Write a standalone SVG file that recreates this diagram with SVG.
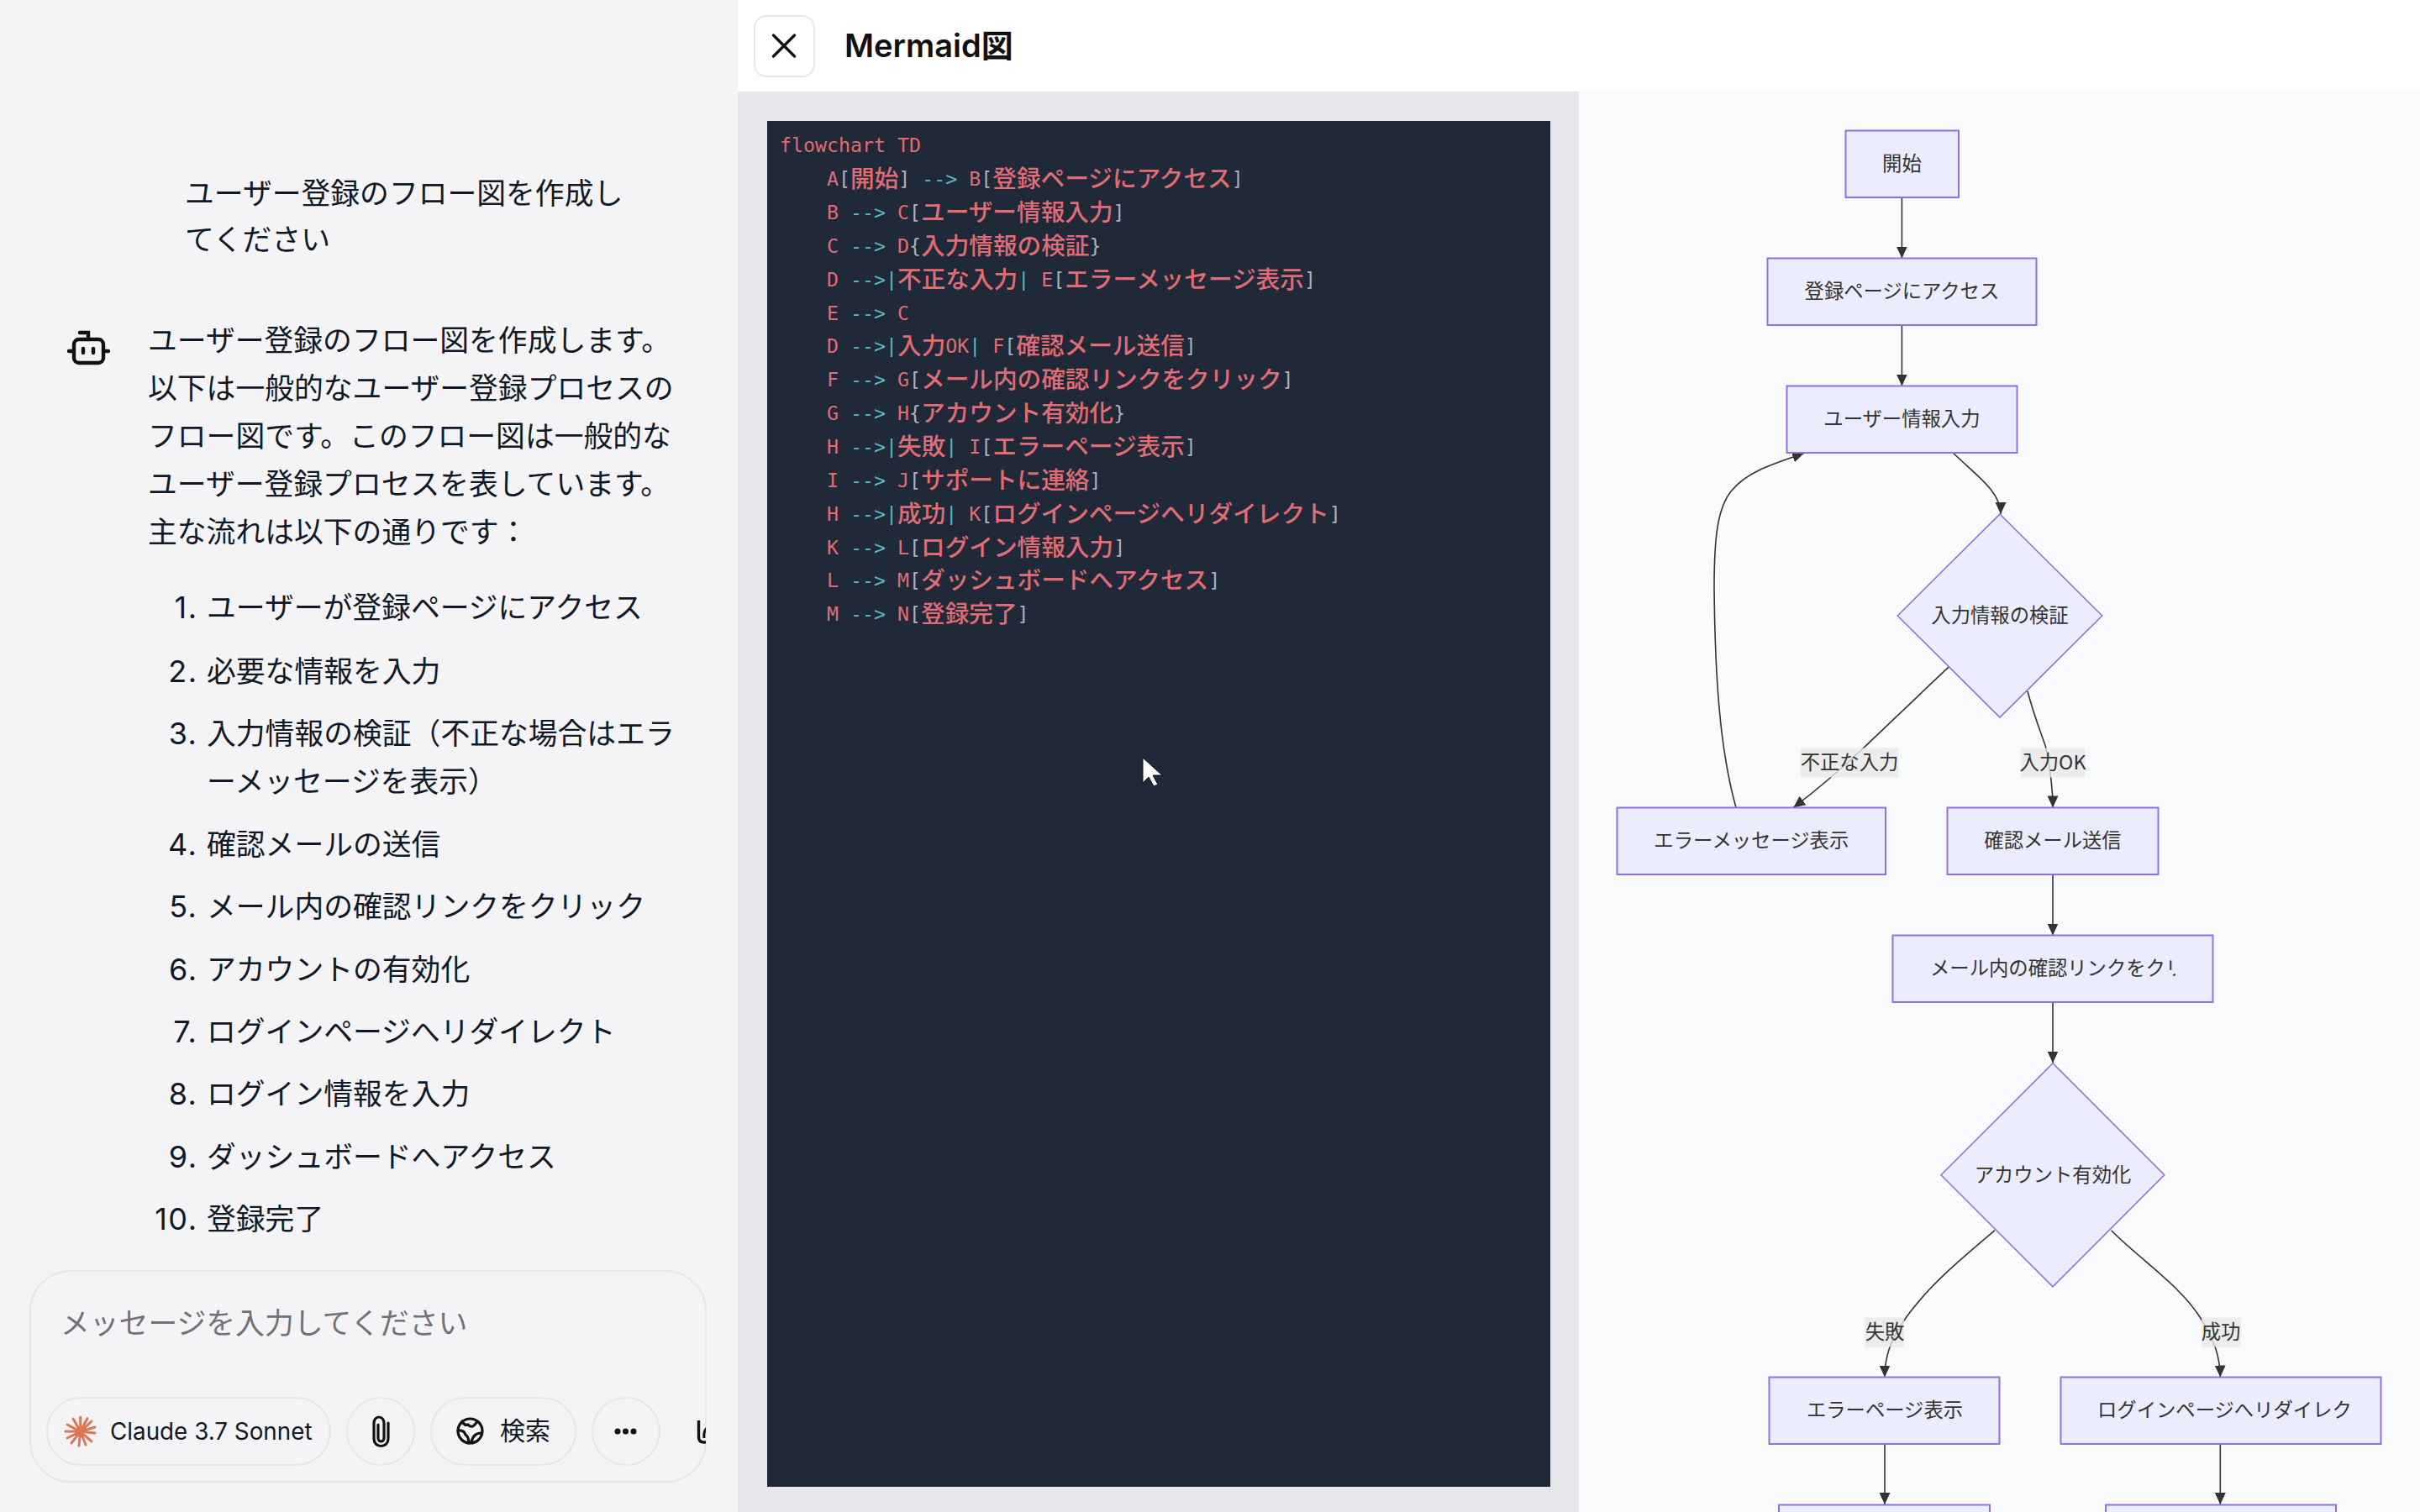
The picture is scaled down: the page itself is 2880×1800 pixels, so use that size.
<svg xmlns="http://www.w3.org/2000/svg" width="2880" height="1800" viewBox="0 0 2880 1800">
<style>
text{white-space:pre}
.chat{font-family:"Inter","Noto Sans CJK JP",sans-serif;font-size:34.8px;fill:#111827}
.num{font-size:36px;letter-spacing:1.5px;text-anchor:end}
.code{font-family:"DejaVu Sans Mono","Noto Sans CJK JP",monospace;font-size:23.25px}
.p{fill:#E06C75}.c{fill:#56B6C2}.b{fill:#ABB2BF}
.j{fill:#E06C75;font-family:"Noto Sans CJK JP",sans-serif;font-size:28.65px;font-weight:500;baseline-shift:-1.5px}
.node{fill:#ECECFF;stroke:#9370DB;stroke-width:2}
.ntext{font-family:"Noto Sans CJK JP",sans-serif;font-size:23.33px;fill:#333;text-anchor:middle}
.nleft{text-anchor:start}
.edge{fill:none;stroke:#333;stroke-width:1.6;marker-end:url(#arrow)}
.lbg{fill:#E8E8E8;fill-opacity:.8}
.pill{fill:none;stroke:#E5E7EB;stroke-width:2}
.icon{fill:none;stroke:#111;stroke-width:3.2;stroke-linecap:round;stroke-linejoin:round}
</style>
<defs>
<marker id="arrow" markerUnits="userSpaceOnUse" markerWidth="16" markerHeight="14" refX="14" refY="6.5" orient="auto"><path d="M0,0L14,6.5L0,13z" fill="#333"/></marker>
<clipPath id="gclip"><rect x="2260" y="1120" width="329" height="70"/></clipPath>
<clipPath id="inclip"><rect x="30" y="1500" width="810" height="280"/></clipPath>
</defs>
<rect width="2880" height="1800" fill="#F9FAFB"/>
<g id="chat-panel">
<rect x="0" y="0" width="878" height="1800" fill="#F4F4F6"/>
<text class="chat" x="220" y="242.5">ユーザー登録のフロー図を作成し</text>
<text class="chat" x="220" y="298">てください</text>
<g id="bot-icon" fill="none" stroke="#111" stroke-width="4.4" stroke-linecap="round">
<rect x="88" y="404" width="35" height="28" rx="6"/>
<path d="M95,396H105V404M82,418H86M125,418H129"/>
<path d="M99,415V420M111,415V420"/>
</g>
<text class="chat" x="176" y="417.5">ユーザー登録のフロー図を作成します。</text>
<text class="chat" x="176" y="474.5">以下は一般的なユーザー登録プロセスの</text>
<text class="chat" x="176" y="531.5">フロー図です。このフロー図は一般的な</text>
<text class="chat" x="176" y="588.5">ユーザー登録プロセスを表しています。</text>
<text class="chat" x="176" y="645.5">主な流れは以下の通りです：</text>
<text class="chat num" x="235.5" y="736">1.</text>
<text class="chat num" x="235.5" y="811.5">2.</text>
<text class="chat num" x="235.5" y="885.5">3.</text>
<text class="chat num" x="235.5" y="1017.5">4.</text>
<text class="chat num" x="235.5" y="1091.5">5.</text>
<text class="chat num" x="235.5" y="1166.5">6.</text>
<text class="chat num" x="235.5" y="1240.5">7.</text>
<text class="chat num" x="235.5" y="1314.5">8.</text>
<text class="chat num" x="235.5" y="1389.5">9.</text>
<text class="chat num" x="235.5" y="1463.5">10.</text>
<text class="chat" x="246" y="736">ユーザーが登録ページにアクセス</text>
<text class="chat" x="246" y="811.5">必要な情報を入力</text>
<text class="chat" x="246" y="885.5">入力情報の検証（不正な場合はエラ</text>
<text class="chat" x="246" y="942.5">ーメッセージを表示）</text>
<text class="chat" x="246" y="1017.5">確認メールの送信</text>
<text class="chat" x="246" y="1091.5">メール内の確認リンクをクリック</text>
<text class="chat" x="246" y="1166.5">アカウントの有効化</text>
<text class="chat" x="246" y="1240.5">ログインページへリダイレクト</text>
<text class="chat" x="246" y="1314.5">ログイン情報を入力</text>
<text class="chat" x="246" y="1389.5">ダッシュボードへアクセス</text>
<text class="chat" x="246" y="1463.5">登録完了</text>
<g id="input-box">
<rect class="pill" x="36" y="1513" width="804" height="251" rx="48"/>
<text class="chat" x="72" y="1587.5" style="fill:#71717A">メッセージを入力してください</text>
<rect class="pill" x="56" y="1664" width="337" height="80" rx="40"/>
<rect class="pill" x="413" y="1664" width="80" height="80" rx="40"/>
<rect class="pill" x="513" y="1664" width="172" height="80" rx="40"/>
<rect class="pill" x="705" y="1664" width="80" height="80" rx="40"/>
<path d="M95.7,1704.3L95.7,1687M95.7,1704.3L104,1688.5M95.7,1704.3L109,1692M95.7,1704.3L113,1699M95.7,1704.3L113,1706M95.7,1704.3L109,1716M95.7,1704.3L102,1720M95.7,1704.3L94,1721M95.7,1704.3L85,1718M95.7,1704.3L80,1712M95.7,1704.3L78,1704M95.7,1704.3L80,1696M95.7,1704.3L87,1689" fill="none" stroke="#D97757" stroke-width="3" stroke-linecap="round"/>
<text x="131" y="1714" font-family="Inter,sans-serif" font-size="27.8" fill="#111827">Claude 3.7 Sonnet</text>
<path class="icon" d="M450,1696V1712A3.5,4 0 0 0 457,1712V1694A6,7 0 0 0 445,1694V1713A8.5,8.5 0 0 0 462,1713V1694"/>
<g class="icon">
<circle cx="559.5" cy="1703.5" r="14.5"/>
<path d="M550,1692Q553,1698 557,1696Q562,1702 568,1692M545,1703Q552,1702 554,1708Q558,1711 558,1718M573,1706Q563,1706 561,1717"/>
</g>
<text x="595" y="1714" font-family="Noto Sans CJK JP,sans-serif" font-size="30" fill="#111827">検索</text>
<g fill="#111"><circle cx="735" cy="1704" r="3.5"/><circle cx="744.5" cy="1704" r="3.5"/><circle cx="754" cy="1704" r="3.5"/></g>
<g clip-path="url(#inclip)"><path d="M831.5,1691V1711Q831.5,1717 838,1717H846" fill="none" stroke="#111" stroke-width="3.4"/><path d="M841,1700Q837,1704 838,1712" fill="none" stroke="#111" stroke-width="3"/></g>
</g>
</g>
<g id="header">
<rect x="878" y="0" width="2002" height="109" fill="#FFFFFF"/>
<rect x="898" y="19" width="71" height="72" rx="14" fill="#FFF" stroke="#E5E7EB" stroke-width="2"/>
<path d="M920.5,42L945.5,67M945.5,42L920.5,67" stroke="#111" stroke-width="3.4" stroke-linecap="round"/>
<text x="1005" y="68" font-family="Inter,&quot;Noto Sans CJK JP&quot;,sans-serif" font-size="38" font-weight="600" fill="#111">Mermaid図</text>
</g>
<g id="code-panel">
<rect x="878" y="109" width="1001" height="1691" fill="#E5E7EB"/>
<rect x="913" y="144" width="932" height="1626" fill="#1F2937"/>
<text class="code" x="928" y="181"><tspan class="p">flowchart TD</tspan></text>
<text class="code" x="984" y="221"><tspan class="p">A</tspan><tspan class="b">[</tspan><tspan class="j">開始</tspan><tspan class="b">]</tspan><tspan class="c"> --&gt; </tspan><tspan class="p">B</tspan><tspan class="b">[</tspan><tspan class="j">登録ページにアクセス</tspan><tspan class="b">]</tspan></text>
<text class="code" x="984" y="260.5"><tspan class="p">B</tspan><tspan class="c"> --&gt; </tspan><tspan class="p">C</tspan><tspan class="b">[</tspan><tspan class="j">ユーザー情報入力</tspan><tspan class="b">]</tspan></text>
<text class="code" x="984" y="300.5"><tspan class="p">C</tspan><tspan class="c"> --&gt; </tspan><tspan class="p">D</tspan><tspan class="b">{</tspan><tspan class="j">入力情報の検証</tspan><tspan class="b">}</tspan></text>
<text class="code" x="984" y="340.5"><tspan class="p">D</tspan><tspan class="c"> --&gt;|</tspan><tspan class="j">不正な入力</tspan><tspan class="c">| </tspan><tspan class="p">E</tspan><tspan class="b">[</tspan><tspan class="j">エラーメッセージ表示</tspan><tspan class="b">]</tspan></text>
<text class="code" x="984" y="380.5"><tspan class="p">E</tspan><tspan class="c"> --&gt; </tspan><tspan class="p">C</tspan></text>
<text class="code" x="984" y="420"><tspan class="p">D</tspan><tspan class="c"> --&gt;|</tspan><tspan class="j">入力</tspan><tspan class="p">OK</tspan><tspan class="c">| </tspan><tspan class="p">F</tspan><tspan class="b">[</tspan><tspan class="j">確認メール送信</tspan><tspan class="b">]</tspan></text>
<text class="code" x="984" y="460"><tspan class="p">F</tspan><tspan class="c"> --&gt; </tspan><tspan class="p">G</tspan><tspan class="b">[</tspan><tspan class="j">メール内の確認リンクをクリック</tspan><tspan class="b">]</tspan></text>
<text class="code" x="984" y="499.5"><tspan class="p">G</tspan><tspan class="c"> --&gt; </tspan><tspan class="p">H</tspan><tspan class="b">{</tspan><tspan class="j">アカウント有効化</tspan><tspan class="b">}</tspan></text>
<text class="code" x="984" y="539.5"><tspan class="p">H</tspan><tspan class="c"> --&gt;|</tspan><tspan class="j">失敗</tspan><tspan class="c">| </tspan><tspan class="p">I</tspan><tspan class="b">[</tspan><tspan class="j">エラーページ表示</tspan><tspan class="b">]</tspan></text>
<text class="code" x="984" y="579.5"><tspan class="p">I</tspan><tspan class="c"> --&gt; </tspan><tspan class="p">J</tspan><tspan class="b">[</tspan><tspan class="j">サポートに連絡</tspan><tspan class="b">]</tspan></text>
<text class="code" x="984" y="619.5"><tspan class="p">H</tspan><tspan class="c"> --&gt;|</tspan><tspan class="j">成功</tspan><tspan class="c">| </tspan><tspan class="p">K</tspan><tspan class="b">[</tspan><tspan class="j">ログインページへリダイレクト</tspan><tspan class="b">]</tspan></text>
<text class="code" x="984" y="659.5"><tspan class="p">K</tspan><tspan class="c"> --&gt; </tspan><tspan class="p">L</tspan><tspan class="b">[</tspan><tspan class="j">ログイン情報入力</tspan><tspan class="b">]</tspan></text>
<text class="code" x="984" y="699"><tspan class="p">L</tspan><tspan class="c"> --&gt; </tspan><tspan class="p">M</tspan><tspan class="b">[</tspan><tspan class="j">ダッシュボードへアクセス</tspan><tspan class="b">]</tspan></text>
<text class="code" x="984" y="739"><tspan class="p">M</tspan><tspan class="c"> --&gt; </tspan><tspan class="p">N</tspan><tspan class="b">[</tspan><tspan class="j">登録完了</tspan><tspan class="b">]</tspan></text>
<path id="cursor" d="M1360,902L1383,923L1372,923L1378,934L1373,936L1367,925L1360,932z" fill="#FFF" stroke="#111" stroke-width="1"/>
</g>
<g id="connectors">
<path class="edge" d="M2263.4,235V307.5"/>
<path class="edge" d="M2263.4,387V459.5"/>
<path class="edge" d="M2324.7,539.5C2352,566 2381,585 2381,612"/>
<path class="edge" d="M2319.6,793.7C2285,826 2250,860 2218.7,889.5S2160,942 2134.3,961.4"/>
<path class="edge" d="M2066,961.4C2046,890 2041,800 2040,700C2040,640 2044,605 2060,585C2078,562 2110,552 2147,539.5"/>
<path class="edge" d="M2412.9,822.8C2423,860 2432,880 2434.6,889.5C2440,915 2443,940 2443,961.4"/>
<path class="edge" d="M2443,1041V1113.5"/>
<path class="edge" d="M2443,1193V1265.5"/>
<path class="edge" d="M2374,1464.7C2335,1498 2295,1530 2266.6,1571C2250,1595 2243,1615 2243,1639.5"/>
<path class="edge" d="M2512.6,1464.7C2545,1498 2595,1530 2620,1571C2635,1595 2642,1615 2642.3,1639.5"/>
<path class="edge" d="M2243,1719V1791"/>
<path class="edge" d="M2642.3,1719V1791"/>
</g>
<g id="edge-labels">
<g id="label-invalid"><rect class="lbg" x="2142.6" y="890.5" width="116.6" height="35"/><text class="ntext" x="2201" y="916">不正な入力</text></g>
<g id="label-ok"><rect class="lbg" x="2405" y="890.5" width="76.4" height="35"/><text class="ntext" x="2443" y="916">入力OK</text></g>
<g id="label-fail"><rect class="lbg" x="2219.3" y="1568.6" width="46.8" height="35"/><text class="ntext" x="2243" y="1594">失敗</text></g>
<g id="label-success"><rect class="lbg" x="2620" y="1568.6" width="46.8" height="35"/><text class="ntext" x="2643" y="1594">成功</text></g>
</g>
<g id="node-A"><rect class="node" x="2196.5" y="155.5" width="134.5" height="79.5"/><text class="ntext" x="2263.4" y="203">開始</text></g>
<g id="node-B"><rect class="node" x="2103.5" y="307.5" width="320" height="79.5"/><text class="ntext" x="2263.4" y="355">登録ページにアクセス</text></g>
<g id="node-C"><rect class="node" x="2126.5" y="459.5" width="274" height="79.5"/><text class="ntext" x="2263.4" y="507">ユーザー情報入力</text></g>
<g id="node-D"><path class="node" d="M2380,612L2501.7,733L2380,854L2258.3,733z" style="stroke-width:1.6"/><text class="ntext" x="2380" y="741">入力情報の検証</text></g>
<g id="node-E"><rect class="node" x="1924.5" y="961.5" width="319.5" height="79.5"/><text class="ntext" x="2084.3" y="1009">エラーメッセージ表示</text></g>
<g id="node-F"><rect class="node" x="2317.5" y="961.5" width="251" height="79.5"/><text class="ntext" x="2443" y="1009">確認メール送信</text></g>
<g id="node-G"><rect class="node" x="2252.5" y="1113.5" width="381" height="79.5"/><text class="ntext nleft" x="2297" y="1161" clip-path="url(#gclip)">メール内の確認リンクをクリ</text></g>
<g id="node-H"><path class="node" d="M2443,1265.8L2575.8,1398.8L2443,1531.8L2310,1398.8z" style="stroke-width:1.6"/><text class="ntext" x="2443" y="1407">アカウント有効化</text></g>
<g id="node-I"><rect class="node" x="2105.5" y="1639.5" width="274" height="79.5"/><text class="ntext" x="2243" y="1687">エラーページ表示</text></g>
<g id="node-K"><rect class="node" x="2452.5" y="1639.5" width="381" height="79.5"/><text class="ntext nleft" x="2496" y="1687">ログインページへリダイレク</text></g>
<g id="node-J"><rect class="node" x="2117" y="1791.5" width="251" height="79.5"/></g>
<g id="node-L"><rect class="node" x="2506" y="1791.5" width="274" height="79.5"/></g>
</svg>
